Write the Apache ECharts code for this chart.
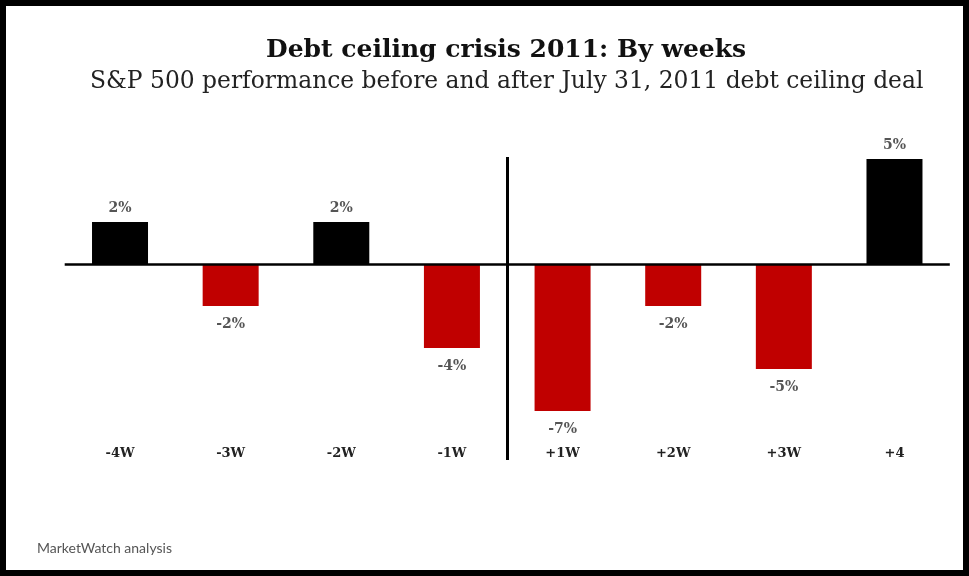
<!DOCTYPE html>
<html>
<head>
<meta charset="utf-8">
<script src="https://cdn.jsdelivr.net/npm/echarts@6/dist/echarts.min.js"></script>
<style>
  html, body { margin: 0; padding: 0; background: #fff; }
  #chart { width: 969px; height: 576px; }
</style>
</head>
<body>
<div id="chart"></div>
<script>
  'use strict';

  // weeks relative to the July 31, 2011 deal
  const weeks = ['-4W', '-3W', '-2W', '-1W', '+1W', '+2W', '+3W', '+4'];
  // S&P 500 weekly change, %
  const changes = [2, -2, 2, -4, -7, -2, -5, 5];

  const titleText = 'Debt ceiling crisis 2011: By weeks';
  const subtitleText = 'S&P 500 performance before and after July 31, 2011 debt ceiling deal';
  const sourceText = 'MarketWatch analysis';

  const dealIndex = 4; // boundary before the first week after the deal

  const serif = '"DejaVu Serif", "Liberation Serif", serif';

  const barData = changes.map((v) => ({
    value: v,
    itemStyle: { color: v >= 0 ? '#000000' : '#c00000' },
    label: {
      position: v >= 0 ? 'top' : 'bottom',
      distance: v >= 0 ? 7 : 11
    }
  }));

  const chart = echarts.init(document.getElementById('chart'));

  chart.setOption({
    backgroundColor: '#ffffff',
    animation: false,
    title: [
      {
        text: titleText,
        left: 266,
        top: 38,
        padding: 0,
        textStyle: { fontFamily: serif, fontSize: 25, fontWeight: 'bold', color: '#111' }
      },
      {
        text: subtitleText,
        left: 90,
        top: 70,
        padding: 0,
        textStyle: { fontFamily: serif, fontSize: 23.4, fontWeight: 'normal', color: '#222' }
      },
      {
        text: sourceText,
        left: 37,
        top: 541,
        padding: 0,
        textStyle: { fontFamily: 'Lato, "Open Sans", sans-serif', fontSize: 14, fontWeight: 'normal', color: '#555' }
      }
    ],
    grid: { left: 64.7, right: 19.2, top: 157, bottom: 116 },
    xAxis: [
      {
        type: 'category',
        data: weeks,
        position: 'bottom',
        axisLine: { show: false },
        axisTick: { show: false },
        splitLine: { show: false },
        axisLabel: {
          margin: -13,
          fontFamily: serif,
          fontSize: 13,
          fontWeight: 'bold',
          color: '#222'
        }
      },
      {
        // hidden index scale used to place the deal divider on a band edge
        type: 'value',
        min: 0,
        max: weeks.length,
        show: false,
        splitLine: { show: false }
      }
    ],
    yAxis: {
      type: 'value',
      min: -9.333,
      max: 5.095,
      show: false,
      splitLine: { show: false }
    },
    series: [
      {
        type: 'bar',
        xAxisIndex: 0,
        barWidth: 56,
        data: barData,
        label: {
          show: true,
          formatter: '{c}%',
          fontFamily: serif,
          fontSize: 14,
          fontWeight: 'bold',
          color: '#555'
        },
        markLine: {
          silent: true,
          symbol: 'none',
          label: { show: false },
          lineStyle: { color: '#000', width: 2.5, type: 'solid' },
          data: [{ yAxis: 0 }]
        }
      },
      {
        type: 'line',
        xAxisIndex: 1,
        data: [],
        markLine: {
          silent: true,
          symbol: 'none',
          label: { show: false },
          lineStyle: { color: '#000', width: 3, type: 'solid' },
          data: [{ xAxis: dealIndex }]
        }
      }
    ],
    graphic: [
      {
        type: 'rect',
        silent: true,
        z: 100,
        shape: { x: 0, y: 0, width: 969, height: 576 },
        style: { fill: 'none', stroke: '#000', lineWidth: 12 }
      }
    ]
  });
</script>
</body>
</html>
